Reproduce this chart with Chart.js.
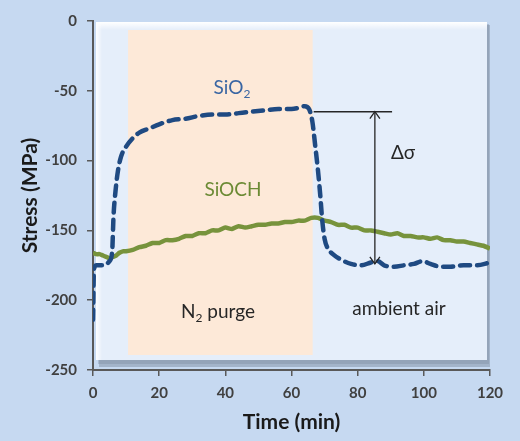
<!DOCTYPE html>
<html>
<head>
<meta charset="utf-8">
<script src="https://cdn.jsdelivr.net/npm/chart.js@4.4.1/dist/chart.umd.min.js"></script>
<style>
  body { margin: 0; background: #c6d9f1; }
  canvas { display: block; }
</style>
</head>
<body>
<canvas id="myChart" width="520" height="441"></canvas>
<script>
// dados (tempo em min, tensão em MPa)
var timeSiO2 = [0, 0.3, 1, 3, 5, 5.8, 6.2, 6.8, 7.5, 8.5, 10, 12, 14, 17, 20, 24, 28, 32, 36, 40, 44, 48, 52, 56, 60, 62.5, 64, 65.3, 66.3, 67.2, 68, 68.7, 69.3, 70, 71, 72.5, 75, 78, 81, 84, 86, 88, 91, 94, 97, 99.6, 102, 105, 108, 112, 116, 120];
var stressSiO2 = [-214, -178, -175, -175, -172, -165, -140, -122, -108, -97, -90, -84, -80, -77, -74, -71, -70, -68, -67, -67, -66, -65, -64, -63, -63, -62, -61, -63, -72, -90, -107, -125, -143, -156, -163, -167, -171, -174, -175, -173, -172, -175, -176, -175, -174, -172, -174, -176, -176, -175, -175, -173];

var timeSiOCH = [0, 1, 2, 3, 4, 5, 6, 7, 8, 9, 10, 12, 14, 16, 18, 20, 22, 24, 26, 28, 30, 32, 34, 36, 38, 40, 42, 44, 46, 48, 50, 52, 54, 56, 58, 60, 62, 64, 66, 68, 70, 72, 74, 76, 78, 80, 82, 84, 86, 88, 90, 92, 94, 96, 98, 100, 102, 104, 106, 108, 110, 112, 114, 116, 118, 120];
var stressSiOCH = [-166, -167, -167, -168, -169, -170, -169, -168, -166, -165, -165, -164, -162, -161, -159, -159, -157, -157, -156, -154, -154, -152, -152, -150, -150, -148, -149, -147, -148, -147, -146, -146, -145, -145, -144, -144, -143, -143, -141, -141, -143, -144, -146, -146, -148, -148, -150, -150, -151, -152, -153, -152, -154, -154, -155, -155, -156, -155, -157, -157, -158, -158, -159, -160, -161, -163];

// eixos
var xTicks = { min: 0, max: 120, step: 20 };
var yTicks = { min: -250, max: 0, step: 50 };

// regiões e anotações
var purgeStart = 10.6, purgeEnd = 66.4;
var deltaTop = -65, deltaBottom = -174, deltaX = 85.2, deltaLineEnd = 90.4;

var ctx = document.getElementById('myChart').getContext('2d');
var FONT = 'Lato, "Open Sans", sans-serif';

function toPoints(xs, ys) {
  return xs.map(function (x, i) { return { x: x, y: ys[i] }; });
}

// fundo, painel e faixa laranja do N2
var backdrop = {
  id: 'backdrop',
  beforeDraw: function (chart) {
    var c = chart.ctx, a = chart.chartArea, xs = chart.scales.x;
    c.save();
    c.fillStyle = '#c6d9f1';
    c.fillRect(0, 0, chart.width, chart.height);

    var l = a.left + 3, t = a.top + 1, r = a.right - 3, b = a.bottom - 10;
    // sombra
    c.fillStyle = 'rgba(120,135,155,0.45)';
    c.fillRect(l + 3, t + 3, r - l, b - t + 4);
    c.fillStyle = 'rgba(120,135,155,0.35)';
    c.fillRect(l + 2, t + 2, r - l, b - t + 2);
    // painel
    c.fillStyle = '#e5eefa';
    c.fillRect(l, t, r - l, b - t);
    var g = c.createLinearGradient(0, t, 0, t + 8);
    g.addColorStop(0, '#ffffff');
    g.addColorStop(1, 'rgba(255,255,255,0)');
    c.fillStyle = g;
    c.fillRect(l, t, r - l, 8);
    var gl = c.createLinearGradient(l, 0, l + 6, 0);
    gl.addColorStop(0, '#ffffff');
    gl.addColorStop(1, 'rgba(255,255,255,0)');
    c.fillStyle = gl;
    c.fillRect(l, t, 6, b - t);

    // faixa N2
    var x0 = xs.getPixelForValue(purgeStart), x1 = xs.getPixelForValue(purgeEnd);
    c.fillStyle = '#fde9d8';
    c.fillRect(x0, t + 8, x1 - x0, b - t - 13);
    c.restore();
  }
};

function arrowHead(c, x, y, dir) {
  c.beginPath();
  c.moveTo(x - 5, y - dir * 7);
  c.lineTo(x, y);
  c.lineTo(x + 5, y - dir * 7);
  c.stroke();
}

// textos e seta do delta sigma
var notes = {
  id: 'notes',
  afterDatasetsDraw: function (chart) {
    var c = chart.ctx, xs = chart.scales.x, ys = chart.scales.y;
    c.save();

    c.strokeStyle = '#262626';
    c.lineWidth = 1.3;
    var yt = ys.getPixelForValue(deltaTop), yb = ys.getPixelForValue(deltaBottom);
    var xv = xs.getPixelForValue(deltaX);
    c.beginPath();
    c.moveTo(xs.getPixelForValue(purgeEnd) + 1, yt);
    c.lineTo(xs.getPixelForValue(deltaLineEnd), yt);
    c.moveTo(xv, yt);
    c.lineTo(xv, yb);
    c.stroke();
    arrowHead(c, xv, yt, -1);
    arrowHead(c, xv, yb, 1);

    c.textBaseline = 'middle';
    c.textAlign = 'center';
    c.font = '19px ' + FONT;

    c.fillStyle = '#262626';
    c.fillText('Δσ', xs.getPixelForValue(93.7), ys.getPixelForValue(-94.3));
    c.fillText('ambient air', xs.getPixelForValue(92.5), ys.getPixelForValue(-206.4));

    c.fillStyle = '#6b8a34';
    c.fillText('SiOCH', xs.getPixelForValue(42.3), ys.getPixelForValue(-120.7));

    // SiO2 com subscrito
    subText(c, 'SiO', '2', '', xs.getPixelForValue(42), ys.getPixelForValue(-47.9), '#3a66a3');
    subText(c, 'N', '2', ' purge', xs.getPixelForValue(37.8), ys.getPixelForValue(-208.6), '#262626');
    c.restore();
  }
};

function subText(c, a, sub, b, cx, cy, color) {
  c.fillStyle = color;
  c.textAlign = 'left';
  c.font = '19px ' + FONT;
  var wa = c.measureText(a).width, wb = c.measureText(b).width;
  c.font = '12px ' + FONT;
  var ws = c.measureText(sub).width;
  var x = cx - (wa + ws + wb) / 2;
  c.font = '19px ' + FONT;
  c.fillText(a, x, cy);
  c.font = '12px ' + FONT;
  c.fillText(sub, x + wa, cy + 6);
  c.font = '19px ' + FONT;
  c.fillText(b, x + wa + ws, cy);
  c.textAlign = 'center';
}

var config = {
  type: 'line',
  data: {
    datasets: [
      {
        label: 'SiO2',
        data: toPoints(timeSiO2, stressSiO2),
        borderColor: '#1f4a82',
        borderWidth: 4.5,
        borderDash: [10, 7],
        borderCapStyle: 'round',
        cubicInterpolationMode: 'monotone',
        pointRadius: 0,
        fill: false
      },
      {
        label: 'SiOCH',
        data: toPoints(timeSiOCH, stressSiOCH),
        borderColor: '#77933c',
        borderWidth: 4.5,
        tension: 0.2,
        pointRadius: 0,
        fill: false
      }
    ]
  },
  options: {
    responsive: false,
    animation: false,
    devicePixelRatio: 1,
    layout: { padding: { top: 21, right: 30, bottom: 0, left: 0 } },
    plugins: { legend: { display: false }, tooltip: { enabled: false } },
    scales: {
      x: {
        type: 'linear',
        min: xTicks.min,
        max: xTicks.max,
        afterFit: function (s) { s.height = 71; },
        grid: { drawOnChartArea: false, color: '#595959', tickLength: 6, lineWidth: 1.5 },
        border: { color: '#595959', width: 2 },
        ticks: { stepSize: xTicks.step, padding: 8, color: '#404040', font: { family: FONT, size: 15, weight: 'bold' } },
        title: { display: true, text: 'Time (min)', color: '#1a1a1a', padding: { top: 0, bottom: 6 }, font: { family: FONT, size: 21, weight: 'bold' } }
      },
      y: {
        min: yTicks.min,
        max: yTicks.max,
        afterFit: function (s) { s.width = 93; },
        grid: { drawOnChartArea: false, color: '#595959', tickLength: 6, lineWidth: 1.5 },
        border: { color: '#595959', width: 2 },
        ticks: { stepSize: yTicks.step, padding: 10, color: '#404040', font: { family: FONT, size: 15, weight: 'bold' } },
        title: { display: true, text: 'Stress (MPa)', color: '#1a1a1a', padding: { top: 18, bottom: 0 }, font: { family: FONT, size: 21, weight: 'bold' } }
      }
    }
  },
  plugins: [backdrop, notes]
};

var chart = new Chart(ctx, config);
</script>
</body>
</html>
